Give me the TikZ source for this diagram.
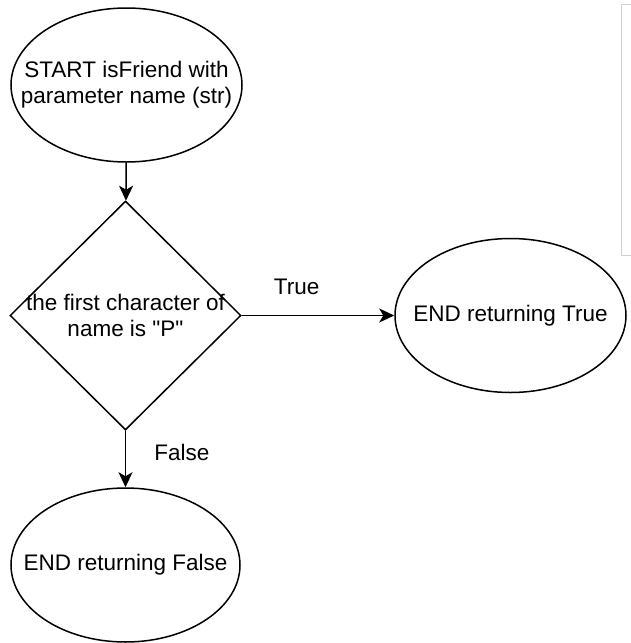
\documentclass[tikz,border=0pt]{standalone}
\usepackage{fontspec}
\setmainfont{Liberation Sans}[Ligatures=TeXOff]
\usetikzlibrary{arrows.meta,shapes.geometric}
\tikzset{
	terminal/.style={draw, ellipse, line width=1.5pt, inner sep=0pt, minimum width=231pt, minimum height=154pt},
	decision/.style={draw, diamond, line width=1.5pt, inner sep=0pt, aspect=1, minimum width=231pt, minimum height=229pt},
	flowtext/.style={align=center, inner sep=0pt, font=\fontsize{22.5}{26}\selectfont},
	flowarrow/.style={line width=1.6pt, -{Stealth[length=15pt, width=14pt, inset=4pt]}}
}

\begin{document}
\begin{tikzpicture}[x=1pt, y=-1pt]
			%%%%% START %%%%%
			\useasboundingbox (0, 0) rectangle (630, 643);
			
			\draw[line width=1pt, color=black!18] (621, 4) rectangle (640, 255);
			
			\node[terminal] (start) at (126.5, 85) {};
			\node[flowtext] (starttext) at (start.center) {START isFriend with\\parameter name (str)};
			
			\node[decision] (check) at (125.5, 315.5) {};
			\node[flowtext] (checktext) at (check.center) {the first character of\\name is "P"};
			
			\node[terminal] (endtrue) at (510.5, 315.5) {};
			\node[flowtext] (endtruetext) at (endtrue.center) {END returning True};
			
			\node[terminal, minimum width=229pt] (endfalse) at (125.5, 565) {};
			\node[flowtext] (endfalsetext) at (endfalse.center) {END returning False};
			
			\draw[flowarrow] (start) -- (check);
			\draw[flowarrow] (check) -- node[flowtext, pos=0.36, yshift=29pt] (lbltrue) {True} (endtrue);
			\draw[flowarrow] (check) -- node[flowtext, pos=0.38, anchor=west, xshift=28pt] (lblfalse) {False} (endfalse);
			
			%%%%% END %%%%%
		\end{tikzpicture}
\end{document}
